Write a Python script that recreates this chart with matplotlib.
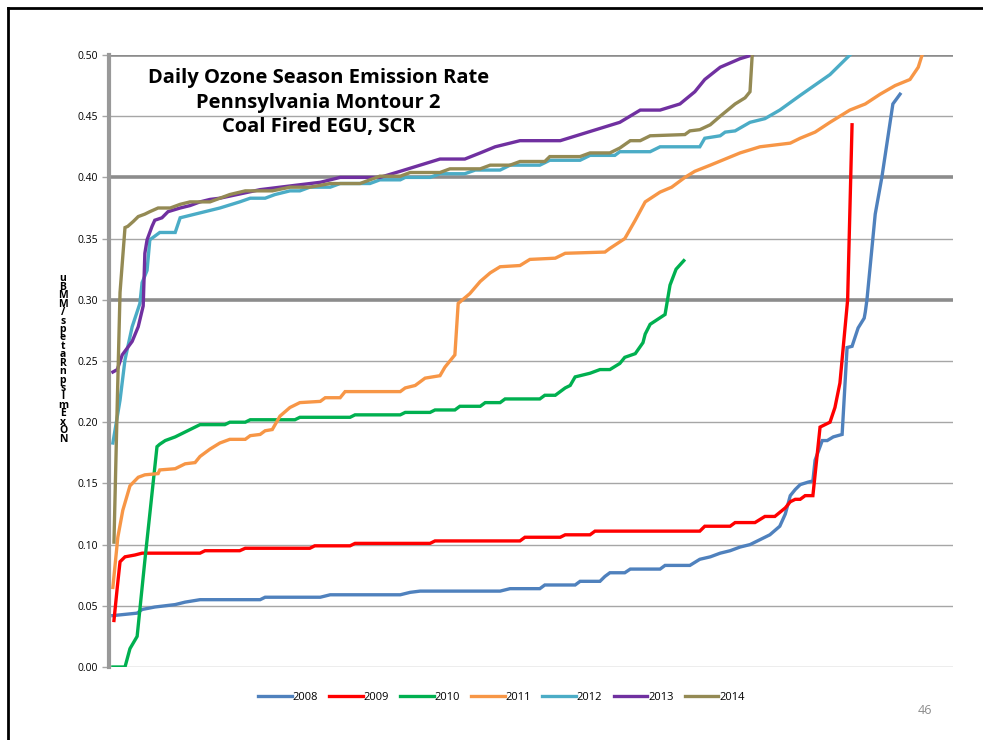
import matplotlib.pyplot as plt
from matplotlib.lines import Line2D

# Sorted daily NOx rates (lbs/mmBtu) as (day rank, rate)
years = ["2008", "2009", "2010", "2011", "2012", "2013", "2014"]
colors = ["#4F81BD", "#FF0000", "#00B050", "#F79646", "#4BACC6", "#7030A0", "#948A54"]

x2008 = [0.7, 5.1, 6.0, 8.3, 12.0, 13.8, 16.5, 27.4, 28.3, 38.3, 40.1, 52.8, 54.6, 56.4, 70.9, 72.7,
         78.1, 79.0, 84.5, 85.4, 89.0, 89.9, 90.8, 93.5, 94.5, 99.9, 100.8, 105.3, 107.1, 109.0,
         110.8, 112.6, 114.4, 116.2, 118.0, 119.8, 121.6, 122.6, 123.5, 124.4, 125.3, 126.7, 127.6,
         128.0, 129.3, 130.2, 131.3, 132.9, 133.8, 134.7, 135.8, 136.9, 137.1, 137.4, 138.9, 140.1,
         142.1, 143.4]
y2008 = [0.042, 0.044, 0.047, 0.049, 0.051, 0.053, 0.055, 0.055, 0.057, 0.057, 0.059, 0.059, 0.061,
         0.062, 0.062, 0.064, 0.064, 0.067, 0.067, 0.070, 0.070, 0.074, 0.077, 0.077, 0.080, 0.080,
         0.083, 0.083, 0.088, 0.090, 0.093, 0.095, 0.098, 0.100, 0.104, 0.108, 0.115, 0.125, 0.140,
         0.145, 0.149, 0.151, 0.152, 0.169, 0.185, 0.185, 0.188, 0.190, 0.261, 0.262, 0.277, 0.285,
         0.290, 0.300, 0.370, 0.400, 0.460, 0.468]

x2009 = [0.9, 1.5, 2.0, 2.9, 4.7, 6.0, 16.5, 17.4, 23.7, 24.7, 36.4, 37.3, 43.7, 44.6, 58.2, 59.1,
         74.5, 75.4, 81.8, 82.7, 87.2, 88.1, 107.1, 108.0, 112.6, 113.5, 117.1, 118.9, 120.7, 122.6,
         123.5, 124.4, 125.3, 126.2, 127.6, 128.9, 130.7, 131.6, 132.5, 133.9, 134.7]
y2009 = [0.038, 0.065, 0.086, 0.090, 0.0915, 0.093, 0.093, 0.095, 0.095, 0.097, 0.097, 0.099, 0.099,
         0.101, 0.101, 0.103, 0.103, 0.106, 0.106, 0.108, 0.108, 0.111, 0.111, 0.115, 0.115, 0.118,
         0.118, 0.123, 0.123, 0.130, 0.135, 0.137, 0.137, 0.140, 0.140, 0.196, 0.200, 0.212, 0.232,
         0.300, 0.443]

x2010 = [0.7, 2.9, 3.8, 5.1, 6.5, 8.7, 9.2, 10.2, 12.0, 13.8, 15.6, 16.5, 21.0, 21.9, 24.7, 25.6,
         33.7, 34.6, 43.7, 44.6, 52.8, 53.7, 58.2, 59.1, 62.7, 63.6, 67.3, 68.2, 70.9, 71.8, 78.1,
         79.0, 80.9, 82.7, 83.6, 84.5, 87.2, 89.0, 90.8, 92.6, 93.5, 95.4, 96.8, 97.2, 98.1, 100.8,
         101.7, 102.8, 104.2]
y2010 = [0.0, 0.0, 0.015, 0.025, 0.087, 0.180, 0.182, 0.185, 0.188, 0.192, 0.196, 0.198, 0.198, 0.200,
         0.200, 0.202, 0.202, 0.204, 0.204, 0.206, 0.206, 0.208, 0.208, 0.210, 0.210, 0.213, 0.213,
         0.216, 0.216, 0.219, 0.219, 0.222, 0.222, 0.228, 0.230, 0.237, 0.240, 0.243, 0.243, 0.248,
         0.253, 0.256, 0.265, 0.272, 0.280, 0.288, 0.312, 0.325, 0.332]

x2011 = [0.7, 1.6, 2.5, 3.8, 5.3, 6.5, 8.9, 9.2, 12.0, 13.8, 15.6, 16.5, 18.3, 20.1, 21.9, 24.7,
         25.6, 27.4, 28.3, 29.6, 31.0, 32.8, 34.6, 38.3, 39.2, 41.9, 42.8, 52.8, 53.7, 55.5, 56.4,
         57.3, 60.0, 60.9, 62.7, 63.3, 65.4, 67.3, 69.1, 70.9, 74.5, 76.3, 80.9, 82.7, 89.9, 90.8,
         93.5, 95.4, 97.2, 99.9, 102.0, 104.4, 106.2, 109.0, 111.7, 114.4, 118.0, 123.5, 125.3,
         128.0, 130.7, 134.3, 137.1, 139.8, 142.5, 145.2, 146.7, 147.4]
y2011 = [0.065, 0.106, 0.128, 0.148, 0.155, 0.157, 0.158, 0.161, 0.162, 0.166, 0.167, 0.172, 0.178,
         0.183, 0.186, 0.186, 0.189, 0.190, 0.193, 0.194, 0.205, 0.212, 0.216, 0.217, 0.220, 0.220,
         0.225, 0.225, 0.228, 0.230, 0.233, 0.236, 0.238, 0.245, 0.255, 0.297, 0.305, 0.315, 0.322,
         0.327, 0.328, 0.333, 0.334, 0.338, 0.339, 0.342, 0.350, 0.365, 0.380, 0.388, 0.392, 0.400,
         0.405, 0.410, 0.415, 0.420, 0.425, 0.428, 0.432, 0.437, 0.445, 0.455, 0.460, 0.468, 0.475,
         0.480, 0.490, 0.500]

x2012 = [0.7, 2.0, 2.9, 4.2, 5.6, 6.0, 6.9, 7.4, 8.0, 9.2, 12.0, 12.9, 16.5, 20.1, 23.7, 25.6, 28.3,
         30.1, 32.8, 34.6, 36.4, 40.1, 41.9, 47.3, 49.1, 52.8, 53.7, 58.2, 60.0, 64.5, 66.4, 70.9,
         72.7, 78.1, 79.9, 85.4, 87.2, 91.7, 92.6, 98.1, 99.9, 107.1, 108.0, 110.8, 111.7, 113.5,
         116.2, 118.9, 121.6, 125.3, 130.7, 134.3]
y2012 = [0.183, 0.218, 0.251, 0.278, 0.297, 0.314, 0.324, 0.349, 0.351, 0.355, 0.355, 0.367, 0.371,
         0.375, 0.380, 0.383, 0.383, 0.386, 0.389, 0.389, 0.392, 0.392, 0.395, 0.395, 0.398, 0.398,
         0.400, 0.400, 0.403, 0.403, 0.406, 0.406, 0.410, 0.410, 0.414, 0.414, 0.418, 0.418, 0.421,
         0.421, 0.425, 0.425, 0.432, 0.434, 0.437, 0.438, 0.445, 0.448, 0.455, 0.467, 0.484, 0.500]

x2013 = [0.7, 1.5, 2.4, 4.2, 5.3, 6.2, 6.5, 6.9, 7.8, 8.3, 9.6, 10.7, 12.9, 14.7, 16.5, 18.3, 20.1,
         27.4, 32.8, 38.3, 41.9, 49.1, 52.8, 56.4, 60.0, 64.5, 67.3, 70.0, 74.5, 81.8, 85.4, 89.0,
         92.6, 96.3, 99.9, 103.5, 106.2, 108.0, 110.8, 114.4, 116.6]
y2013 = [0.241, 0.243, 0.255, 0.266, 0.278, 0.295, 0.338, 0.349, 0.360, 0.365, 0.367, 0.372, 0.375,
         0.377, 0.380, 0.382, 0.383, 0.390, 0.393, 0.396, 0.400, 0.400, 0.405, 0.410, 0.415, 0.415,
         0.420, 0.425, 0.430, 0.430, 0.435, 0.440, 0.445, 0.455, 0.455, 0.460, 0.470, 0.480, 0.490,
         0.497, 0.500]

x2014 = [0.9, 1.5, 2.0, 2.9, 3.4, 4.4, 5.3, 6.5, 7.4, 8.9, 11.1, 12.9, 14.7, 18.3, 20.1, 21.9, 24.7,
         29.6, 32.8, 36.4, 40.1, 45.5, 47.3, 49.1, 52.8, 54.6, 60.0, 61.8, 67.3, 69.1, 72.7, 74.5,
         79.0, 79.9, 85.4, 87.2, 90.8, 92.6, 94.5, 96.3, 98.1, 104.4, 105.3, 107.1, 109.0, 110.8,
         113.5, 115.3, 116.2, 116.6]
y2014 = [0.102, 0.216, 0.306, 0.359, 0.360, 0.364, 0.368, 0.370, 0.372, 0.375, 0.375, 0.378, 0.380,
         0.380, 0.383, 0.386, 0.389, 0.389, 0.392, 0.392, 0.395, 0.395, 0.398, 0.401, 0.401, 0.404,
         0.404, 0.407, 0.407, 0.410, 0.410, 0.413, 0.413, 0.417, 0.417, 0.420, 0.420, 0.424, 0.430,
         0.430, 0.434, 0.435, 0.438, 0.439, 0.443, 0.450, 0.460, 0.465, 0.470, 0.500]

xs = [x2008, x2009, x2010, x2011, x2012, x2013, x2014]
ys = [y2008, y2009, y2010, y2011, y2012, y2013, y2014]

yticks = [0.00, 0.05, 0.10, 0.15, 0.20, 0.25, 0.30, 0.35, 0.40, 0.45, 0.50]
major = [0.30, 0.40, 0.50]

fig = plt.figure(figsize=(9.83, 7.40), dpi=100)
ax = fig.add_axes([109 / 983, 73 / 740, 844 / 983, 612 / 740])

for yv in yticks:
    if round(yv, 2) in major:
        ax.axhline(yv, color="#8c8c8c", lw=2.6, zorder=1)
    else:
        ax.axhline(yv, color="#a6a6a6", lw=1.0, zorder=1)

for x, y, c, lab in zip(xs, ys, colors, years):
    ax.plot(x, y, color=c, lw=2.4, label=lab, zorder=3, solid_joinstyle="miter")

ax.set_xlim(0, 153)
ax.set_ylim(0, 0.5)
ax.set_xticks([])
ax.set_yticks(yticks)
ax.set_yticklabels([f"{v:.2f}" for v in yticks], fontsize=7.5, family="Open Sans")
ax.tick_params(axis="y", length=5, width=1, color="#a6a6a6", pad=3)
for s in ["top", "right", "bottom"]:
    ax.spines[s].set_visible(False)
ax.spines["left"].set_color("#999999")
ax.spines["left"].set_linewidth(3)
ax.spines["left"].set_zorder(4)

ax.text(0.248, 0.978, "Daily Ozone Season Emission Rate\nPennsylvania Montour 2\nCoal Fired EGU, SCR",
        transform=ax.transAxes, ha="center", va="top", fontsize=14.5, fontweight="bold",
        family="Open Sans", linespacing=1.3, zorder=5)

# garbled stacked axis title as it appears on the slide
ylab = list("uBMM/speta") + list("RnpslmExON")
fig.text(63 / 983, 1 - 359 / 740, "\n".join(ylab), ha="center", va="center",
         fontsize=7.5, fontweight="bold", family="Open Sans", linespacing=0.68)

leg = ax.legend(loc="upper center", bbox_to_anchor=(0.465, -0.025), ncol=7, frameon=False,
                handlelength=3.0, handletextpad=0.1, columnspacing=1.0,
                prop={"family": "Open Sans", "size": 8})

# slide frame and page number
fig.add_artist(Line2D([8 / 983, 8 / 983], [0, 1 - 8 / 740], color="black", lw=2))
fig.add_artist(Line2D([8 / 983, 1], [1 - 8 / 740, 1 - 8 / 740], color="black", lw=2))
fig.text(925 / 983, 1 - 710 / 740, "46", ha="center", va="center", fontsize=9, color="#8c8c8c",
         family="Open Sans")

plt.savefig("out.png", dpi=100)
